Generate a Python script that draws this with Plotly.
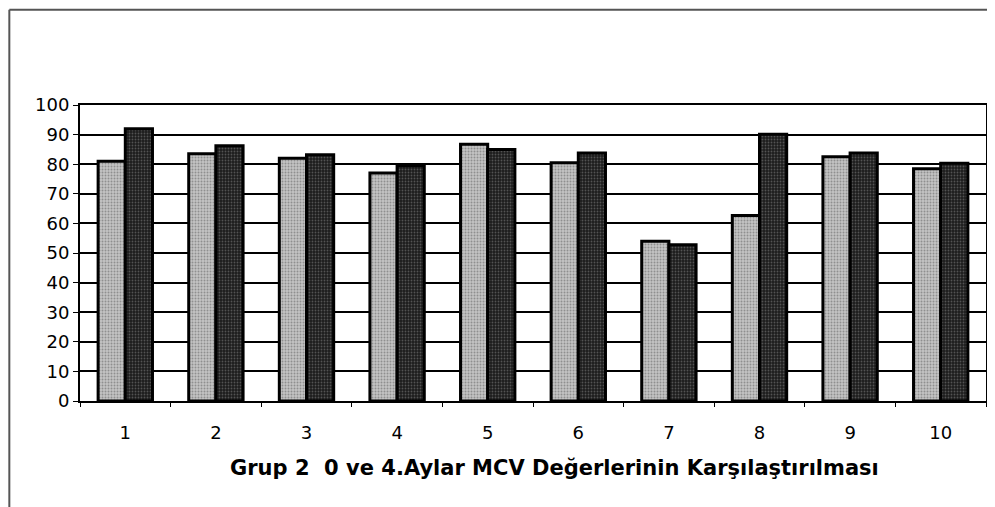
import plotly.graph_objects as go

months = ["1", "2", "3", "4", "5", "6", "7", "8", "9", "10"]
month_0 = [81, 83.5, 82, 77, 86.7, 80.5, 54, 62.7, 82.5, 78.5]
month_4 = [92, 86.2, 83.2, 79.5, 85, 83.8, 52.8, 90.1, 83.8, 80.3]

TITLE = "Grup 2  0 ve 4.Aylar MCV Değerlerinin Karşılaştırılması"
FONT = "DejaVu Sans, Arial, sans-serif"

fig = go.Figure()
fig.add_trace(go.Bar(
    x=months, y=month_0, name="0. ay",
    marker=dict(color="#a8a8a8", line=dict(color="black", width=3),
                pattern=dict(shape=".", fgcolor="#5a5a5a", bgcolor="#c4c4c4", size=3, solidity=0.35)),
))
fig.add_trace(go.Bar(
    x=months, y=month_4, name="4. ay",
    marker=dict(color="#2a2a2a", line=dict(color="black", width=3),
                pattern=dict(shape=".", fgcolor="#8a8a8a", bgcolor="#1c1c1c", size=3, solidity=0.3)),
))

fig.add_annotation(text=f"<b>{TITLE}</b>", xref="paper", yref="paper", x=0.524, y=-0.226,
                   xanchor="center", yanchor="middle",
                   showarrow=False, font=dict(family=FONT, size=21, color="black"))

# outer chart frame (top and left edges visible in the reference)
fig.add_shape(type="line", xref="paper", yref="paper", x0=-0.078, x1=1.01, y0=1.322, y1=1.322,
              line=dict(color="#555", width=2))
fig.add_shape(type="line", xref="paper", yref="paper", x0=-0.078, x1=-0.078, y0=-0.4, y1=1.322,
              line=dict(color="#555", width=2))

fig.update_layout(
    barmode="group", bargap=0.4, bargroupgap=0,
    width=987, height=499, showlegend=False,
    margin=dict(l=72, r=7, t=97, b=106),
    plot_bgcolor="white", paper_bgcolor="white",
    font=dict(family=FONT, size=18, color="black"),
    xaxis=dict(showline=True, linecolor="black", linewidth=2, mirror=True,
               ticks="outside", tickson="boundaries", ticklen=4, tickcolor="black",
               ticklabelstandoff=14, showgrid=False, tickfont=dict(size=18)),
    yaxis=dict(range=[0, 100], dtick=10, showgrid=True, gridcolor="black", gridwidth=1.5,
               showline=True, linecolor="black", linewidth=2, mirror=True,
               ticks="outside", ticklen=5, tickcolor="black", zeroline=False,
               tickfont=dict(size=18)),
)

fig.write_html("out.html")
